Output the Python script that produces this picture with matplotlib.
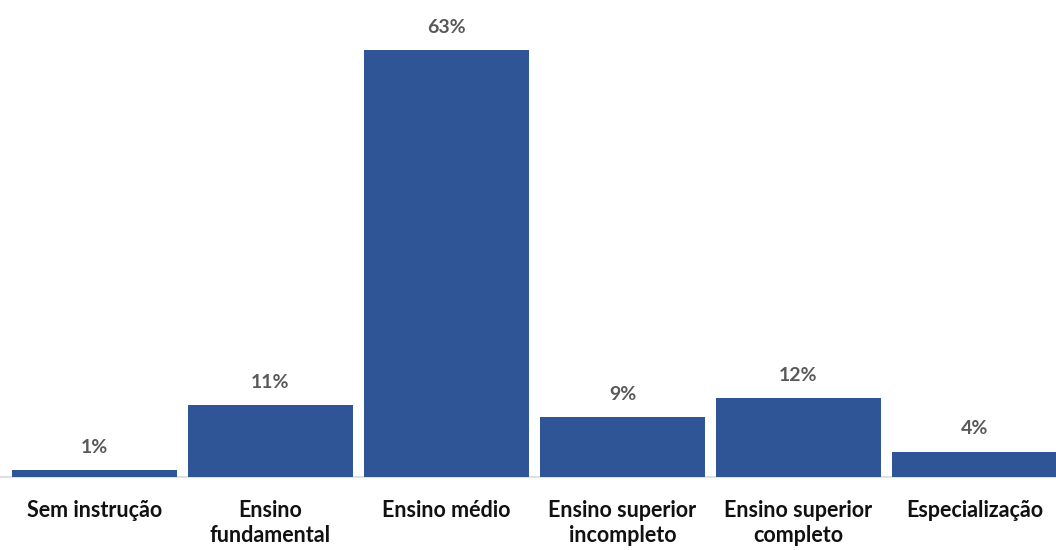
import matplotlib
matplotlib.use("Agg")
import matplotlib.pyplot as plt

categories = ["Sem instrução", "Ensino\nfundamental", "Ensino médio",
              "Ensino superior\nincompleto", "Ensino superior\ncompleto", "Especialização"]
values = [1.0, 10.6, 63.0, 8.8, 11.6, 3.7]

W, H = 1056, 550
fig = plt.figure(figsize=(W / 100, H / 100), dpi=100)
base_px = 73
ax = fig.add_axes([0, base_px / H, 1, 1 - base_px / H])

x = list(range(len(categories)))
ax.bar(x, values, width=0.9375, color="#2F5597", zorder=2)
ax.set_xlim(-94.5 / 176, (W - 94.5) / 176)
ax.set_ylim(0, 70.4)
ax.axhline(0, color="#d9d9d9", lw=1.2, zorder=1, clip_on=False)

for xi, v in zip(x, values):
    ax.annotate(f"{round(v)}%", (xi, v), xytext=(0, 23), textcoords="offset pixels",
                ha="center", va="center", fontsize=14, fontweight="bold",
                color="#595959", family="Lato")

for xi, c in zip(x, categories):
    ax.annotate(c, (xi, 0), xytext=(0, -23), textcoords="offset pixels",
                ha="center", va="top", fontsize=15.5, fontweight="bold",
                color="#111111", family="Lato", linespacing=1.25,
                annotation_clip=False)

ax.axis("off")
fig.savefig("out.png", dpi=100)
